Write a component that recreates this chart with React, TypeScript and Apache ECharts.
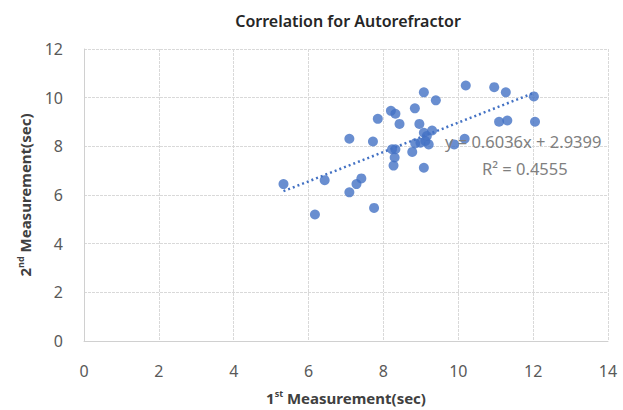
import React, { useEffect, useRef } from "react";
import * as echarts from "echarts";

const titleText = "Correlation for Autorefractor";
const xTicks = [0, 2, 4, 6, 8, 10, 12, 14];
const yTicks = [0, 2, 4, 6, 8, 10, 12];
const firstMeasurement = [
  5.33, 6.17, 6.43, 7.09, 7.09, 7.28, 7.41, 7.72, 7.75, 7.85, 8.2, 8.32, 8.43, 8.23, 8.32, 8.3, 8.27, 8.84, 9.08,
  9.4, 8.96, 8.77, 8.85, 8.99, 9.08, 9.16, 9.3, 9.21, 9.12, 9.08, 9.89, 10.17, 10.2, 10.96, 11.27, 11.09, 11.31,
  12.02, 12.05,
];
const secondMeasurement = [
  6.45, 5.2, 6.61, 8.31, 6.11, 6.45, 6.68, 8.2, 5.47, 9.13, 9.46, 9.34, 8.92, 7.88, 7.88, 7.54, 7.21, 9.56, 10.22,
  9.89, 8.92, 7.77, 8.12, 8.15, 8.56, 8.42, 8.65, 8.08, 8.22, 7.12, 8.08, 8.31, 10.5, 10.43, 10.22, 9.01, 9.06,
  10.05, 9.01,
];
const slope = 0.6036;
const intercept = 2.9399;
const rSquared = 0.4555;

export default function App() {
  const ref = useRef<HTMLDivElement>(null);
  useEffect(() => {
    if (!ref.current) return;
    const chart = echarts.init(ref.current, null, { renderer: "svg" });
    const pts = firstMeasurement.map((x, i) => [x, secondMeasurement[i]]);
    const xmin = Math.min(...firstMeasurement);
    const xmax = Math.max(...firstMeasurement);
    const trend = [
      [xmin, slope * xmin + intercept],
      [xmax, slope * xmax + intercept],
    ];
    const font = "'Noto Sans', 'Open Sans', sans-serif";
    const gridLine = { show: true, lineStyle: { color: "#d9d9d9", type: [3, 1] as any, width: 1 } };
    const rich = {
      b: { fontSize: 15, fontWeight: "bold", color: "#404040", fontFamily: font },
      s: { fontSize: 9, fontWeight: "bold", color: "#404040", verticalAlign: "top", padding: [0, 0, 8, 0], fontFamily: font },
    };
    chart.setOption({
      animation: false,
      textStyle: { fontFamily: font },
      title: {
        text: titleText,
        left: 343,
        top: 8,
        textAlign: "center",
        textStyle: { fontSize: 16, fontWeight: 600, color: "#262626", fontFamily: font },
      },
      grid: { left: 84, right: 15, top: 49, bottom: 67, containLabel: false },
      xAxis: {
        type: "value",
        min: xTicks[0],
        max: xTicks[xTicks.length - 1],
        interval: 2,
        name: "{b|1}{s|st}{b| Measurement(sec)}",
        nameLocation: "middle",
        nameGap: 48,
        nameTextStyle: { rich },
        axisLine: { show: true, lineStyle: { color: "#d0d0d0" } },
        axisTick: { show: false },
        axisLabel: { fontSize: 16, color: "#595959", margin: 22 },
        splitLine: gridLine,
      },
      yAxis: {
        type: "value",
        min: yTicks[0],
        max: yTicks[yTicks.length - 1],
        interval: 2,
        name: "{b|2}{s|nd}{b| Measurement(sec)}",
        nameLocation: "middle",
        nameGap: 51,
        nameTextStyle: { rich },
        axisLine: { show: true, lineStyle: { color: "#d0d0d0" } },
        axisTick: { show: false },
        axisLabel: { fontSize: 16, color: "#595959", margin: 21 },
        splitLine: gridLine,
      },
      series: [
        {
          type: "line",
          data: trend,
          symbol: "none",
          lineStyle: { color: "#4472C4", width: 2.5, type: [2, 3] as any },
          z: 3,
        },
        {
          type: "scatter",
          data: pts,
          symbolSize: 10,
          itemStyle: { color: "#4472C4" },
          z: 2,
        },
      ],
      graphic: [
        {
          type: "text",
          x: 445,
          y: 133,
          style: {
            text: `y = ${slope}x + ${intercept}`,
            fontSize: 16.5,
            fill: "#7f7f7f",
            fontFamily: font,
          },
          z: 10,
        },
        {
          type: "text",
          x: 482,
          y: 160,
          style: {
            text: `R² = ${rSquared}`,
            fontSize: 16.5,
            fill: "#7f7f7f",
            fontFamily: font,
          },
          z: 10,
        },
      ],
    });
    return () => chart.dispose();
  }, []);
  return <div ref={ref} style={{ width: 623, height: 410, position: "absolute", left: 0, top: 0, background: "#fff" }} />;
}
